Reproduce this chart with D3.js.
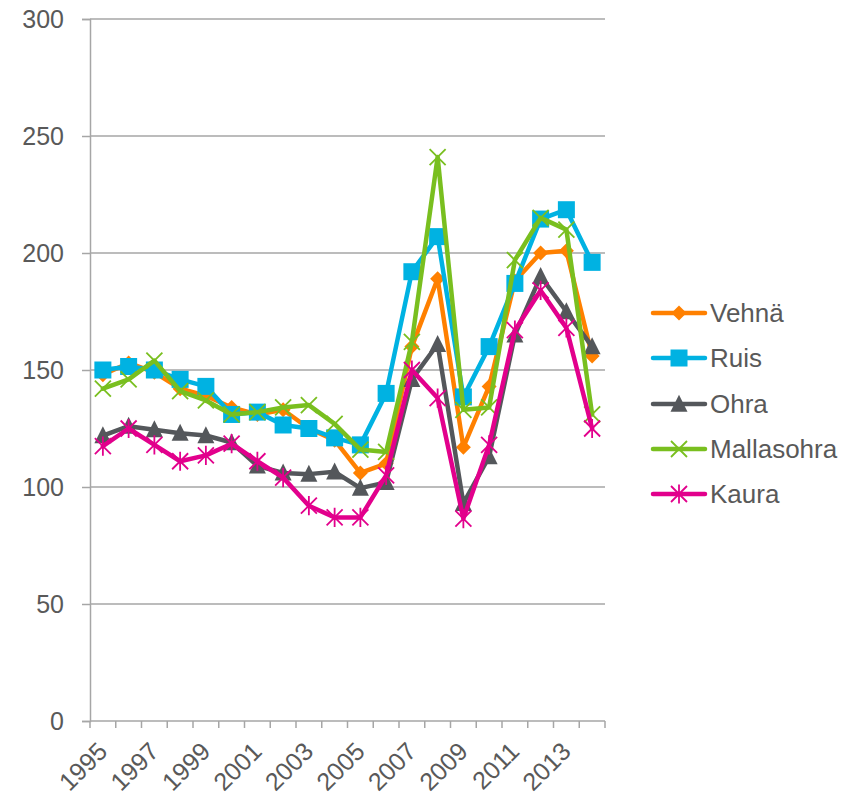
<!DOCTYPE html>
<html>
<head>
<meta charset="utf-8">
<script src="https://cdn.jsdelivr.net/npm/d3@7"></script>
<style>
  body { margin: 0; background: #fff; }
  svg { display: block; font-family: "Liberation Sans", Arial, sans-serif; }
</style>
</head>
<body>
<svg id="chart" width="858" height="797"></svg>
<script>
const years = [1995,1996,1997,1998,1999,2000,2001,2002,2003,2004,2005,2006,2007,2008,2009,2010,2011,2012,2013,2014];
const yTicks = [0, 50, 100, 150, 200, 250, 300];
const xLabelYears = [1995,1997,1999,2001,2003,2005,2007,2009,2011,2013];

const seriesNames = ["Vehnä", "Ruis", "Ohra", "Mallasohra", "Kaura"];
const vehna      = [148,153,149,142,139,134,131,133,125,120,106,110,160,189,117,143,188,200,201,156];
const ruis       = [150,151.5,150,146,143,131,132,126.5,125,121,118,140,192,207,138.5,160,187,214.5,218.5,196];
const ohra       = [122,126,124.5,123,122,119,109,106,105.5,106.5,99.5,102,146,161,93,113,165,190,175,160];
const mallasohra = [142,146,154,141,137,131,132,134,135,127,116,115,162,241,133,134,197,215,210,131];
const kaura      = [117.5,125,118,111,113.5,118.5,111,104,92,87,87,105,150,138,86.5,118,167,184,168,125];

const seriesValues = [vehna, ruis, ohra, mallasohra, kaura];
const colors = ["#ff8000", "#00b2e2", "#54575b", "#79bf1f", "#e2008c"];
const markers = ["diamond", "square", "triangle", "x", "star"];

const svg = d3.select("#chart");
const mLeft = 90, mRight = 605, mTop = 19, mBottom = 721;

const x = d3.scaleBand().domain(years).range([mLeft, mRight]);
const y = d3.scaleLinear().domain([0, 300]).range([mBottom, mTop]);
const cx = d => x(d) + x.bandwidth() / 2;

const axisColor = "#a6a6a6";
const textColor = "#595959";

// gridlines
svg.append("g").selectAll("line").data(yTicks.filter(t => t > 0)).join("line")
  .attr("x1", mLeft).attr("x2", mRight)
  .attr("y1", d => y(d)).attr("y2", d => y(d))
  .attr("stroke", axisColor).attr("stroke-width", 1.5);

// y axis
const yAxis = svg.append("g").attr("transform", `translate(${mLeft},0)`)
  .call(d3.axisLeft(y).tickValues(yTicks).tickSize(8).tickPadding(18));
yAxis.select(".domain").attr("stroke", axisColor).attr("stroke-width", 1.5);
yAxis.selectAll(".tick line").attr("stroke", axisColor).attr("stroke-width", 1.5);
yAxis.selectAll(".tick text").attr("fill", textColor)
  .style("font-size", "25px").style("font-family", '"Liberation Sans", Arial, sans-serif');

// x axis
const xg = svg.append("g").attr("transform", `translate(0,${mBottom})`);
xg.append("line").attr("x1", mLeft).attr("x2", mRight).attr("y1", 0).attr("y2", 0)
  .attr("stroke", axisColor).attr("stroke-width", 1.5);
const tickPos = years.map(d => x(d)).concat([mRight]);
xg.selectAll("line.tk").data(tickPos).join("line").attr("class", "tk")
  .attr("x1", d => d).attr("x2", d => d).attr("y1", 0).attr("y2", 7)
  .attr("stroke", axisColor).attr("stroke-width", 1.5);
xg.selectAll("text").data(xLabelYears).join("text")
  .attr("transform", d => `translate(${cx(d) + 6},${32}) rotate(-45)`)
  .attr("text-anchor", "end")
  .attr("fill", textColor)
  .style("font-size", "25px")
  .text(d => d);

// marker drawing
function drawMarker(g, type, color, px, py, scale = 1) {
  if (type === "diamond") {
    const s = 7.5 * scale;
    g.append("path").attr("d", `M${px},${py - s}L${px + s},${py}L${px},${py + s}L${px - s},${py}Z`).attr("fill", color);
  } else if (type === "square") {
    const s = 8.5 * scale;
    g.append("rect").attr("x", px - s).attr("y", py - s).attr("width", 2 * s).attr("height", 2 * s).attr("fill", color);
  } else if (type === "triangle") {
    const s = 8.5 * scale;
    g.append("path").attr("d", `M${px},${py - s * 1.1}L${px + s},${py + s * 0.9}L${px - s},${py + s * 0.9}Z`).attr("fill", color);
  } else if (type === "x") {
    const s = 8 * scale;
    g.append("path").attr("d", `M${px - s},${py - s}L${px + s},${py + s}M${px - s},${py + s}L${px + s},${py - s}`)
      .attr("stroke", color).attr("stroke-width", 1.8).attr("fill", "none");
  } else if (type === "star") {
    const s = 8 * scale;
    g.append("path").attr("d", `M${px - s},${py - s}L${px + s},${py + s}M${px - s},${py + s}L${px + s},${py - s}M${px},${py - s * 1.2}L${px},${py + s * 1.2}`)
      .attr("stroke", color).attr("stroke-width", 1.8).attr("fill", "none");
  }
}

const line = d3.line().x((d, i) => cx(years[i])).y(d => y(d));

seriesNames.forEach((name, si) => {
  const g = svg.append("g");
  g.append("path").datum(seriesValues[si]).attr("d", line)
    .attr("fill", "none").attr("stroke", colors[si]).attr("stroke-width", 4.5)
    .attr("stroke-linejoin", "round").attr("stroke-linecap", "round");
  seriesValues[si].forEach((v, i) => drawMarker(g, markers[si], colors[si], cx(years[i]), y(v)));
});

// legend
const legY = [313, 358, 404, 449, 494];
seriesNames.forEach((name, si) => {
  const g = svg.append("g");
  const ly = legY[si];
  g.append("line").attr("x1", 653).attr("x2", 705).attr("y1", ly).attr("y2", ly)
    .attr("stroke", colors[si]).attr("stroke-width", 4.5).attr("stroke-linecap", "round");
  drawMarker(g, markers[si], colors[si], 679, ly);
  g.append("text").attr("x", 710).attr("y", ly).attr("dy", "0.35em")
    .attr("fill", textColor).style("font-size", "26px").text(name);
});
</script>
</body>
</html>
